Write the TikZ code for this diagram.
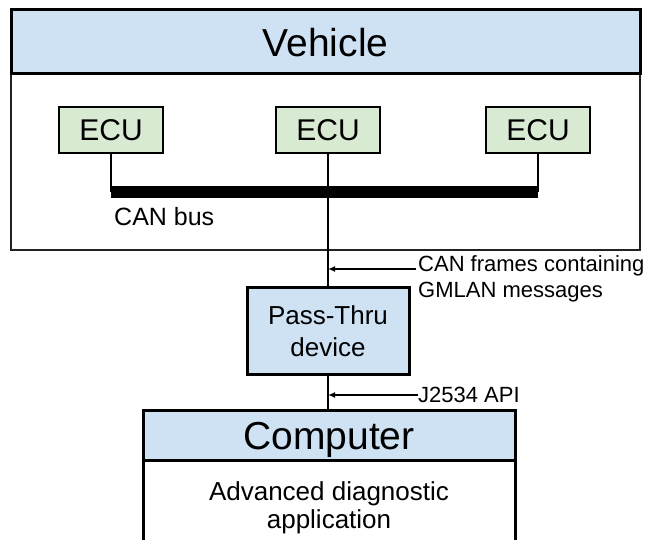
\documentclass[tikz,border=0pt]{standalone}
\usepackage{fontspec}
\setmainfont{Liberation Sans}
\usetikzlibrary{arrows.meta,calc}
\definecolor{hdrblue}{HTML}{CFE2F3}
\definecolor{ecugreen}{HTML}{D9EAD3}
\definecolor{framegray}{HTML}{222222}

\begin{document}
\begin{tikzpicture}[x=1pt,y=-1pt,
  hdr/.style={draw, line width=3pt, fill=hdrblue, inner sep=0pt, outer sep=0pt,
    text depth=0pt, font=\fontsize{39}{44}\selectfont},
  bodyframe/.style={draw=framegray, line width=1.2pt, fill=white, inner sep=0pt, outer sep=0pt},
  ecubox/.style={draw, line width=2.4pt, fill=ecugreen, inner sep=0pt, outer sep=0pt,
    minimum width=104pt, minimum height=46pt, font=\fontsize{30}{34}\selectfont},
  devbox/.style={draw, line width=3pt, fill=hdrblue, inner sep=0pt, outer sep=0pt,
    minimum width=162pt, minimum height=87pt, align=center,
    font=\fontsize{26}{32}\selectfont},
  wire/.style={line width=2.7pt},
  note/.style={font=\fontsize{22}{26}\selectfont, inner sep=0pt, align=left},
  pointer/.style={line width=1.3pt, -{Latex[length=7pt,width=6pt]}}
]
\useasboundingbox (0,0) rectangle (649,540);
\clip (0,0) rectangle (649,540);

% Vehicle frame with its title band
\node[bodyframe, minimum width=629pt, minimum height=176pt] (vbody) at (325.5,162) {};
\node[hdr, minimum width=629pt, minimum height=64pt] (vhead) at (325.5,42) {Vehicle};

% ECUs
\node[ecubox] (ecu1) at (111,130) {ECU};
\node[ecubox] (ecu2) at (328,130) {ECU};
\node[ecubox] (ecu3) at (538,130) {ECU};

% CAN bus
\coordinate (busL) at (111,192);
\coordinate (busR) at (538,192);
\draw[wire] (ecu1.south) -- (ecu1.south |- busL);
\draw[wire] (ecu3.south) -- (ecu3.south |- busR);
\draw[line width=12pt] (busL) -- (busR);
\node[font=\fontsize{25}{30}\selectfont, inner sep=0pt, anchor=west] (buslabel) at (114,217) {CAN bus};

% Pass-Thru device
\node[devbox] (pt) at (328,331) {Pass-Thru\\device};
\draw[wire] (ecu2.south) -- (pt.north);

% Computer
\node[draw, line width=3pt, fill=white, inner sep=0pt, outer sep=0pt,
  minimum width=372pt, minimum height=100pt] (cbody) at (329,510) {};
\node[hdr, minimum width=372pt, minimum height=50pt] (chead) at (329,436) {Computer};
\node[font=\fontsize{26}{28}\selectfont, align=center, inner sep=0pt] (app) at (329,508)
  {Advanced diagnostic\\application};
\draw[wire] (pt.south) -- (pt.south |- chead.north);

% Annotations
\node[note, anchor=north west] (n1) at (418,255) {CAN frames containing\\GMLAN messages};
\coordinate (n1a) at (416,269);
\draw[pointer] (n1a) -- (n1a -| pt.center);
\node[note, anchor=west] (n2) at (418,395) {J2534 API};
\draw[pointer] (n2.west) -- (n2.west -| pt.center);
\end{tikzpicture}
\end{document}
